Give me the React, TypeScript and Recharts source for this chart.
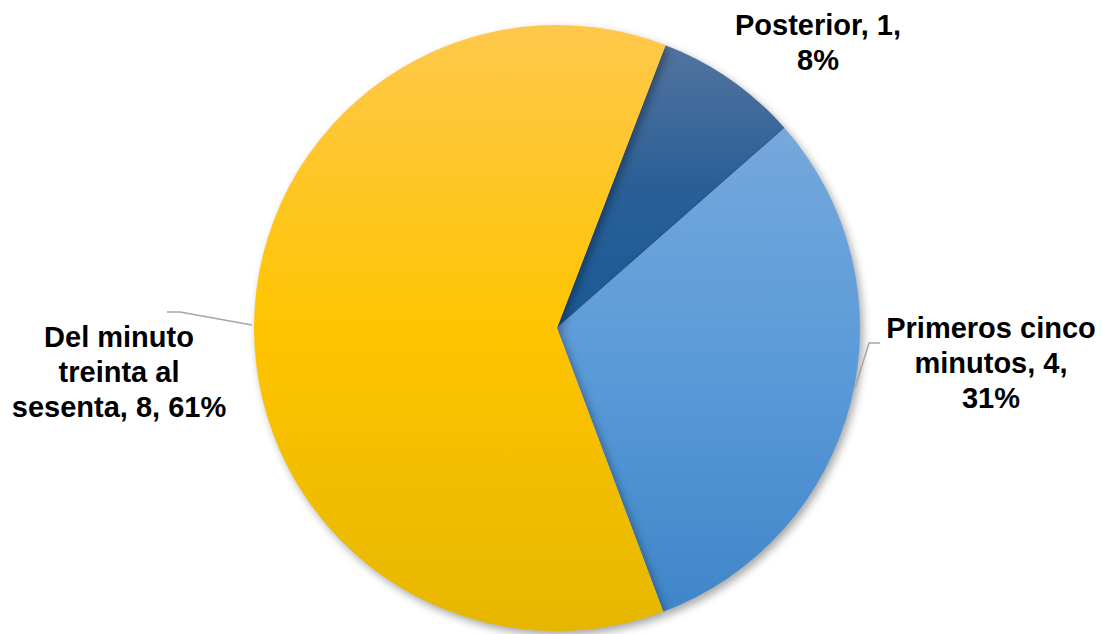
import React from 'react';
import { PieChart, Pie, Cell } from 'recharts';

const categories = ['Posterior', 'Primeros cinco minutos', 'Del minuto treinta al sesenta'];
const values = [1, 4, 8];
const percentLabels = ['8%', '31%', '61%'];
const labelLines = [
  ['Posterior, 1,', '8%'],
  ['Primeros cinco', 'minutos, 4,', '31%'],
  ['Del minuto', 'treinta al', 'sesenta, 8, 61%'],
];

const data = categories.map((name, i) => ({ name, value: values[i], pct: percentLabels[i] }));

const gradients = [
  { id: 'gPost', stops: ['#52749f', '#2a5f96', '#1b5a97'] },
  { id: 'gPrim', stops: ['#76a8dc', '#5a9ad9', '#3f86c8'] },
  { id: 'gDel', stops: ['#ffc84c', '#ffc400', '#e6b700'] },
];

const labelOffsets = [
  { dx: 261, dy: -293, line: null as null | number[][] },
  { dx: 434, dy: 10, line: [[323, 15], [312, 15], [298, 60]] },
  { dx: -438, dy: 19, line: [[-390, -16], [-377, -16], [-305, -3]] },
];

const FONT = 29;
const LINE_H = 35;

const renderLabel = (props: any) => {
  const { cx, cy, index } = props;
  const off = labelOffsets[index];
  const lines = labelLines[index];
  return (
    <g key={`lbl-${index}`}>
      {off.line && (
        <polyline
          points={off.line.map((p) => `${cx + p[0]},${cy + p[1]}`).join(' ')}
          fill="none"
          stroke="#a6a6a6"
          strokeWidth={1.5}
        />
      )}
      <text
        x={cx + off.dx}
        y={cy + off.dy}
        textAnchor="middle"
        fontFamily="'Liberation Sans', Arial, sans-serif"
        fontWeight="bold"
        fontSize={FONT}
        fill="#000"
      >
        {lines.map((l, i) => (
          <tspan key={i} x={cx + off.dx} dy={i === 0 ? 0 : LINE_H}>
            {l}
          </tspan>
        ))}
      </text>
    </g>
  );
};

export default function App() {
  return (
    <div style={{ position: 'absolute', left: 0, top: 0, width: 1101, height: 634, background: '#fff' }}>
      <style>{`.recharts-pie-sector { filter: drop-shadow(3px 4px 4px rgba(0,0,0,0.35)); }`}</style>
      <PieChart width={1101} height={634} margin={{ top: 0, right: 0, bottom: 0, left: 0 }}>
        <defs>
          {gradients.map((g) => (
            <linearGradient key={g.id} id={g.id} x1="0" y1="0" x2="0" y2="1">
              <stop offset="0%" stopColor={g.stops[0]} />
              <stop offset="50%" stopColor={g.stops[1]} />
              <stop offset="100%" stopColor={g.stops[2]} />
            </linearGradient>
          ))}
        </defs>
        <Pie
          data={data}
          dataKey="value"
          nameKey="name"
          cx={557}
          cy={328}
          outerRadius={303}
          innerRadius={0}
          startAngle={69}
          endAngle={-291}
          stroke="none"
          label={renderLabel}
          labelLine={false}
          isAnimationActive={false}
        >
          {data.map((d, i) => (
            <Cell key={d.name} fill={`url(#${gradients[i].id})`} />
          ))}
        </Pie>
      </PieChart>
    </div>
  );
}
